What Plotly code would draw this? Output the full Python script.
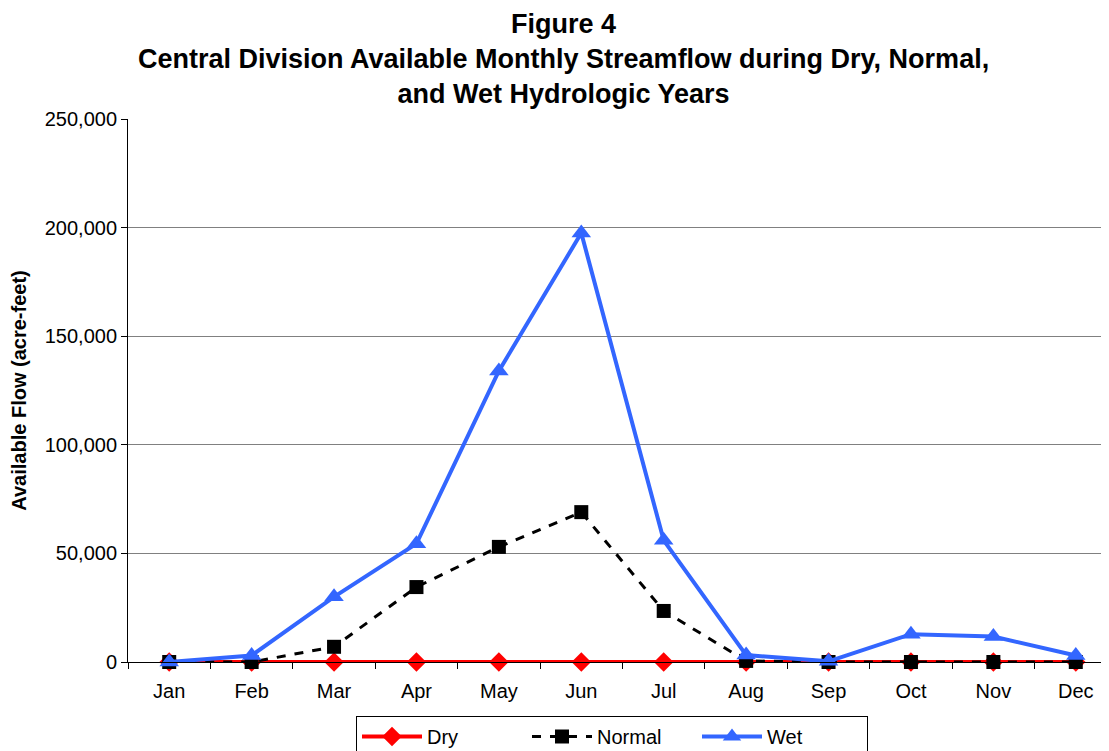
import plotly.graph_objects as go

months = ["Jan", "Feb", "Mar", "Apr", "May", "Jun", "Jul", "Aug", "Sep", "Oct", "Nov", "Dec"]
dry = [0, 0, 0, 0, 0, 0, 0, 0, 0, 0, 0, 0]
normal = [0, 0, 7000, 34500, 53000, 69000, 23500, 500, 0, 0, 0, 0]
wet = [0, 3000, 30000, 54500, 134000, 197500, 56000, 3200, 300, 12800, 11700, 3000]

FONT = "Liberation Sans, Arial, sans-serif"
BLUE = "#3366FF"

# The page body has an 8px default margin, so the figure is laid out in
# figure coordinates = window coordinates - 8.
L, T, B = 120, 111, 97
W, H = 1109, 751
PW = W - L
PH = H - T - B

fig = go.Figure()
fig.add_trace(go.Scatter(
    x=months, y=dry, name="Dry", mode="lines+markers",
    line=dict(color="#FF0000", width=4),
    marker=dict(symbol="diamond", size=15, color="#FF0000"),
    cliponaxis=False,
))
fig.add_trace(go.Scatter(
    x=months, y=normal, name="Normal", mode="lines+markers",
    line=dict(color="#000000", width=3, dash="dash"),
    marker=dict(symbol="square", size=14, color="#000000"),
    cliponaxis=False,
))
fig.add_trace(go.Scatter(
    x=months, y=wet, name="Wet", mode="lines+markers",
    line=dict(color=BLUE, width=4),
    marker=dict(symbol="triangle-up", size=17, color=BLUE),
    cliponaxis=False,
))

fig.update_layout(
    width=W, height=H,
    margin=dict(l=L, r=0, t=T, b=B),
    paper_bgcolor="white", plot_bgcolor="white",
    font=dict(family=FONT, size=20, color="black"),
    showlegend=True,
    legend=dict(
        orientation="h", x=(348 - L) / PW, xanchor="left",
        yref="container", y=(H - 708) / H, yanchor="top",
        bordercolor="black", borderwidth=1, bgcolor="white",
        font=dict(family=FONT, size=20, color="black"),
        entrywidth=95, entrywidthmode="pixels",
        itemwidth=60,
    ),
    annotations=[dict(
        text="<b>Figure 4<br>Central Division Available Monthly Streamflow during Dry, Normal,<br>and Wet Hydrologic Years</b>",
        xref="paper", yref="paper", x=(555 - L) / PW, xanchor="center",
        y=(T + PH) / PH, yanchor="top", showarrow=False, borderpad=0,
        font=dict(family=FONT, size=27, color="black"),
    )],
)
fig.update_xaxes(
    type="category", range=[-0.5, 11.5], automargin=False,
    showline=True, linecolor="black", linewidth=1,
    ticks="outside", tickson="boundaries", ticklen=6, tickcolor="black",
    ticklabelstandoff=11,
    showgrid=False, zeroline=False,
    tickfont=dict(family=FONT, size=20, color="black"),
)
fig.update_yaxes(
    range=[0, 250000], dtick=50000, tickformat=",", automargin=False,
    showline=True, linecolor="black", linewidth=1,
    ticks="outside", ticklen=6, tickcolor="black",
    showgrid=True, gridcolor="#808080", gridwidth=1, zeroline=False,
    tickfont=dict(family=FONT, size=20, color="black"),
    title=dict(text="<b>Available Flow (acre-feet)</b>", standoff=12,
               font=dict(family=FONT, size=20, color="black")),
)

fig.write_html("out.html")
